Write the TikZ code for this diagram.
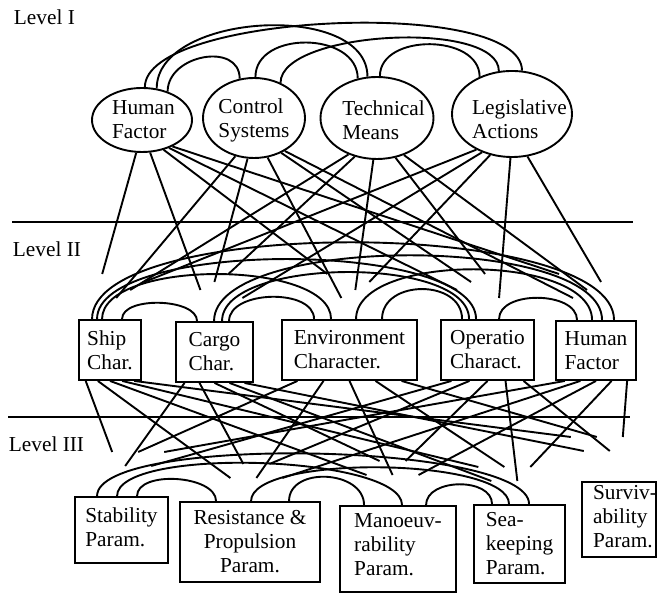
\documentclass[tikz,border=0pt]{standalone}
\usepackage{fontspec}
\setmainfont{Liberation Serif}
\usetikzlibrary{calc,shapes.geometric}
\begin{document}
\begin{tikzpicture}[x=1pt,y=1pt,line width=1.9pt,
  every node/.style={font=\fontsize{21.3}{24}\selectfont},
  oval/.style={draw,ellipse,inner sep=0pt},
  box/.style={draw,rectangle,inner sep=0pt,align=left},
  label/.style={align=left,inner sep=0pt},
  link/.style={line width=1.9pt},
  arc/.style={line width=1.9pt,out=90,in=90},
  divider/.style={line width=1.4pt}]
\useasboundingbox (0,0) rectangle (657,610);

% level captions
\node[anchor=base west,inner sep=0pt] (lv1) at (13,585) {Level I};
\node[anchor=base west,inner sep=0pt] (lv2) at (12,353) {Level II};
\node[anchor=base west,inner sep=0pt] (lv3) at (8,158) {Level III};

% dividing lines between the levels
\draw[divider] (12,388) -- (633,388);
\draw[divider] (8,193) -- (630,193);

% level I: ellipses
\node[oval,minimum width=100pt,minimum height=64pt] (a1) at (142,490) {};
\node[label] (a1t) at (143.5,490) {Human\\Factor};
\node[oval,minimum width=102pt,minimum height=80pt] (a2) at (254,492) {};
\node[label] (a2t) at (254,490) {Control\\Systems};
\node[oval,minimum width=113pt,minimum height=82pt] (a3) at (377,492) {};
\node[label] (a3t) at (383.5,490) {Technical\\Means};
\node[oval,minimum width=120pt,minimum height=86pt] (a4) at (512,496) {};
\node[label] (a4t) at (519.5,491) {Legislative\\Actions};

% level II: boxes
\node[box,minimum width=62pt,minimum height=60pt] (b1) at (110,260) {Ship\\Char.};
\node[box,minimum width=77pt,minimum height=60pt] (b2) at (214.5,258) {Cargo\\Char.};
\node[box,minimum width=135pt,minimum height=60pt] (b3) at (349.5,260) {Environment\\Character.};
\node[box,minimum width=93pt,minimum height=60pt] (b4) at (487.5,260) {Operatio\\Charact.};
\node[box,minimum width=80pt,minimum height=59pt] (b5) at (596,259.5) {Human\\Factor};

% level III: boxes
\node[box,minimum width=93pt,minimum height=66pt] (c1) at (121.5,80) {};
\node[label] (c1t) at (121.5,83) {Stability\\Param.};
\node[box,align=center,minimum width=140pt,minimum height=80pt] (c2) at (250,68) {Resistance \&\\Propulsion\\Param.};
\node[box,minimum width=116pt,minimum height=86pt] (c3) at (398,61) {};
\node[label] (c3t) at (398,65) {Manoeuv-\\rability\\Param.};
\node[box,minimum width=91pt,minimum height=78pt] (c4) at (519.5,66) {Sea-\\keeping\\Param.};
\node[box,minimum width=74pt,minimum height=75pt] (c5) at (619,90.5) {};
\node[label] (c5t) at (625,93) {Surviv-\\ability\\Param.};

% level I: mutual links
\draw[arc,distance=74pt] (a1.85) to (a4.77);
\draw[arc,distance=76pt] (a1.65) to (a3.103);
\draw[arc,distance=37pt] (a1.48) to (a2.110);
\draw[arc,distance=47pt] (a2.88) to (a3.116);
\draw[arc,distance=52pt] (a2.53) to (a4.107);
\draw[arc,distance=43pt] (a3.86) to (a4.131);

% level II: mutual links
\draw[arc,distance=23pt]  ([xshift=44pt]b1.north west) to ([xshift=22pt]b2.north west);
\draw[arc,distance=60pt]  ([xshift=24pt]b1.north west) to ([xshift=50pt]b3.north west);
\draw[arc,distance=80pt]  ([xshift=19pt]b1.north west) to ([xshift=36pt]b4.north west);
\draw[arc,distance=103pt] ([xshift=14pt]b1.north west) to ([xshift=59pt]b5.north west);
\draw[arc,distance=31pt]  ([xshift=54pt]b2.north west) to ([xshift=33pt]b3.north west);
\draw[arc,distance=64pt]  ([xshift=47pt]b2.north west) to ([xshift=29pt]b4.north west);
\draw[arc,distance=87pt]  ([xshift=39pt]b2.north west) to ([xshift=47pt]b5.north west);
\draw[arc,distance=40pt]  ([xshift=101pt]b3.north west) to ([xshift=22pt]b4.north west);
\draw[arc,distance=67pt]  ([xshift=75pt]b3.north west) to ([xshift=37pt]b5.north west);
\draw[arc,distance=29pt]  ([xshift=59pt]b4.north west) to ([xshift=22pt]b5.north west);

% level III: mutual links
\draw[arc,distance=26pt] ([xshift=63pt]c1.north west) to ([xshift=37pt]c2.north west);
\draw[arc,distance=50pt] ([xshift=43pt]c1.north west) to ([xshift=63pt]c3.north west);
\draw[arc,distance=62pt] ([xshift=23pt]c1.north west) to ([xshift=56pt]c4.north west);
\draw[arc,distance=35pt] ([xshift=110pt]c2.north west) to ([xshift=25pt]c3.north west);
\draw[arc,distance=47pt] ([xshift=72pt]c2.north west) to ([xshift=36pt]c4.north west);
\draw[arc,distance=27pt] ([xshift=87pt]c3.north west) to ([xshift=19pt]c4.north west);

% level I -> level II: open-ended links
\foreach \i/\ux/\uy in {1/142/490,2/254/492,3/377/492,4/512/496}{
  \foreach \j/\lx in {1/110,2/214.5,3/349.5,4/487.5,5/596}{
    \pgfmathsetmacro\ex{\lx+(\i-2.5)*14+(330-\lx)*0.06}
    \pgfmathsetmacro\ey{312+mod(\i+2*\j,4)*8}
    \pgfmathtruncatemacro\ang{-90+0.7*(atan2(\ey-\uy,\ex-\ux)+90)}
    \coordinate (p\i\j) at (\ex,\ey);
    \draw[link] (a\i.\ang) -- (p\i\j);
  }
}

% level II -> level III: open-ended links
\foreach \i in {1,...,5}{
  \foreach \j/\lx/\ly in {1/121.5/113,2/250/108,3/398/104,4/519.5/105,5/620/128}{
    \pgfmathsetmacro\f{0.12+0.19*(\j-1)}
    \pgfmathsetmacro\ex{\lx+(\i-3)*13+(330-\lx)*0.08}
    \pgfmathsetmacro\ey{\ly+24+mod(2*\i+\j,4)*7}
    \coordinate (q\i\j) at (\ex,\ey);
    \draw[link] ($(b\i.south west)!\f!(b\i.south east)$) -- (q\i\j);
  }
}
\end{tikzpicture}
\end{document}
